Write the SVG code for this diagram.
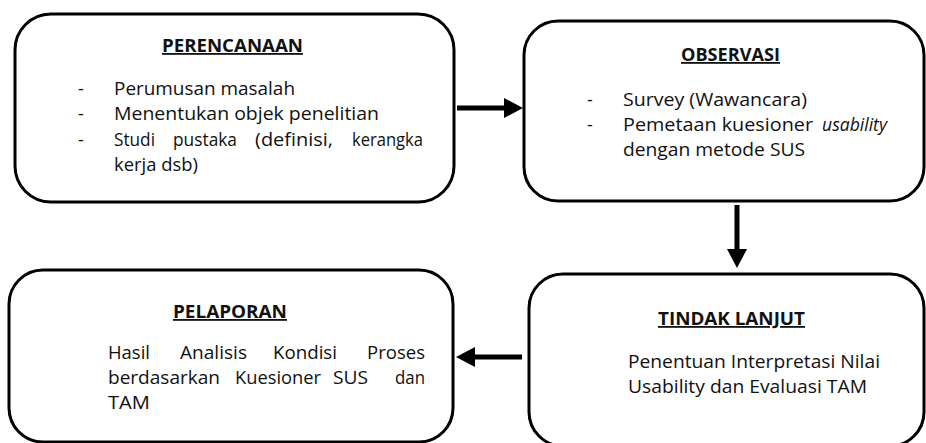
<svg xmlns="http://www.w3.org/2000/svg" width="926" height="443" viewBox="0 0 926 443">
<style>
.box{fill:#fff;stroke:#000;stroke-width:3}
.t{font-family:"Open Sans","Liberation Sans",sans-serif;font-size:18px;fill:#111}
.h{font-weight:bold;text-decoration:underline}
.i{font-style:italic}
.conn{stroke:#000;stroke-width:5;fill:none}
</style>
<defs>
<marker id="ah" markerUnits="userSpaceOnUse" markerWidth="19" markerHeight="20" refX="0" refY="10" orient="auto">
<path d="M0,0 L19,10 L0,20 Z" fill="#000"/>
</marker>
</defs>
<rect width="926" height="443" fill="#fff"/>
<g id="perencanaan">
<rect class="box" x="15" y="14" width="439" height="188" rx="36"/>
<text class="t h" x="162" y="52" textLength="141" lengthAdjust="spacingAndGlyphs">PERENCANAAN</text>
<text class="t" x="78" y="95">-</text>
<text class="t" x="78" y="120">-</text>
<text class="t" x="78" y="146">-</text>
<text class="t" x="114" y="95" textLength="181" lengthAdjust="spacingAndGlyphs">Perumusan masalah</text>
<text class="t" x="114" y="120" textLength="265" lengthAdjust="spacingAndGlyphs">Menentukan objek penelitian</text>
<text class="t" y="146"><tspan x="114" textLength="41" lengthAdjust="spacingAndGlyphs">Studi</tspan> <tspan x="173" textLength="64" lengthAdjust="spacingAndGlyphs">pustaka</tspan> <tspan x="255" textLength="78" lengthAdjust="spacingAndGlyphs">(definisi,</tspan> <tspan x="352" textLength="71" lengthAdjust="spacingAndGlyphs">kerangka</tspan></text>
<text class="t" x="114" y="171" textLength="84" lengthAdjust="spacingAndGlyphs">kerja dsb)</text>
</g>
<g id="observasi">
<rect class="box" x="524" y="21" width="400" height="180" rx="34"/>
<text class="t h" x="681" y="61" textLength="99" lengthAdjust="spacingAndGlyphs">OBSERVASI</text>
<text class="t" x="587" y="106">-</text>
<text class="t" x="587" y="131">-</text>
<text class="t" x="623" y="106" textLength="184" lengthAdjust="spacingAndGlyphs">Survey (Wawancara)</text>
<text class="t" y="131"><tspan x="623" textLength="190" lengthAdjust="spacingAndGlyphs">Pemetaan kuesioner</tspan> <tspan class="i" x="822" textLength="65" lengthAdjust="spacingAndGlyphs">usability</tspan></text>
<text class="t" x="623" y="156" textLength="182" lengthAdjust="spacingAndGlyphs">dengan metode SUS</text>
</g>
<g id="tindak-lanjut">
<rect class="box" x="529" y="274" width="395" height="172" rx="34"/>
<text class="t h" x="658" y="325" textLength="147" lengthAdjust="spacingAndGlyphs">TINDAK LANJUT</text>
<text class="t" x="628" y="368" textLength="252" lengthAdjust="spacingAndGlyphs">Penentuan Interpretasi Nilai</text>
<text class="t" x="628" y="393" textLength="239" lengthAdjust="spacingAndGlyphs">Usability dan Evaluasi TAM</text>
</g>
<g id="pelaporan">
<rect class="box" x="9" y="270" width="444" height="172" rx="34"/>
<text class="t h" x="173" y="318" textLength="114" lengthAdjust="spacingAndGlyphs">PELAPORAN</text>
<text class="t" y="359"><tspan x="108" textLength="42" lengthAdjust="spacingAndGlyphs">Hasil</tspan> <tspan x="180" textLength="67" lengthAdjust="spacingAndGlyphs">Analisis</tspan> <tspan x="273" textLength="64" lengthAdjust="spacingAndGlyphs">Kondisi</tspan> <tspan x="367" textLength="58" lengthAdjust="spacingAndGlyphs">Proses</tspan></text>
<text class="t" y="384"><tspan x="108" textLength="112" lengthAdjust="spacingAndGlyphs">berdasarkan</tspan> <tspan x="235" textLength="86" lengthAdjust="spacingAndGlyphs">Kuesioner</tspan> <tspan x="333" textLength="35" lengthAdjust="spacingAndGlyphs">SUS</tspan> <tspan x="395" textLength="30" lengthAdjust="spacingAndGlyphs">dan</tspan></text>
<text class="t" x="108" y="409" textLength="42" lengthAdjust="spacingAndGlyphs">TAM</text>
</g>
<g id="connectors">
<line class="conn" x1="457" y1="108" x2="504" y2="108" marker-end="url(#ah)"/>
<line class="conn" x1="737" y1="205" x2="737" y2="249" marker-end="url(#ah)"/>
<line class="conn" x1="522" y1="357" x2="475" y2="357" marker-end="url(#ah)"/>
</g>
</svg>
